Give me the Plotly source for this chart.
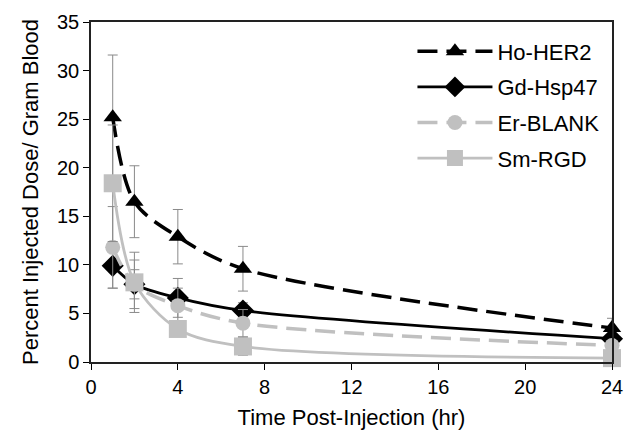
import plotly.graph_objects as go

times = [1, 2, 4, 7, 24]

ho_her2 = [25.2, 16.5, 12.9, 9.6, 3.5]
ho_her2_err = [6.4, 3.7, 2.8, 2.3, 1.0]

gd_hsp47 = [9.9, 8.0, 6.6, 5.3, 2.4]
gd_hsp47_err = [2.3, 1.5, 2.0, 0.8, 0.5]

er_blank = [11.8, 8.0, 5.8, 4.0, 1.7]
er_blank_err = [4.2, 2.5, 1.8, 1.4, 0.5]

sm_rgd = [18.4, 8.2, 3.4, 1.6, 0.4]
sm_rgd_err = [6.0, 3.1, 0.6, 0.9, 0.3]

x_ticks = [0, 4, 8, 12, 16, 20, 24]
y_ticks = [0, 5, 10, 15, 20, 25, 30, 35]

series = [
    ("Ho-HER2", ho_her2, ho_her2_err, "black", "20px,9px", 3.5, "triangle-up", 16),
    ("Gd-Hsp47", gd_hsp47, gd_hsp47_err, "black", "solid", 2.8, "diamond", 17),
    ("Er-BLANK", er_blank, er_blank_err, "#c0c0c0", "20px,9px", 3.5, "circle", 15),
    ("Sm-RGD", sm_rgd, sm_rgd_err, "#c0c0c0", "solid", 2.8, "square", 18),
]

fig = go.Figure()
for name, y, err, color, dash, width, symbol, msize in series:
    fig.add_trace(go.Scatter(
        x=times, y=y, name=name, mode="lines+markers",
        line=dict(color=color, width=width, dash=dash, shape="spline", smoothing=0.9),
        marker=dict(symbol=symbol, size=msize, color=color),
        error_y=dict(type="data", array=err, visible=True, color="#8a8a8a",
                     thickness=1, width=5),
        cliponaxis=False, legendgroup=name,
    ))

font_family = "Liberation Sans, Arial, sans-serif"
fig.update_layout(
    width=627, height=430,
    margin=dict(l=91, r=15, t=22, b=68),
    paper_bgcolor="white", plot_bgcolor="white",
    font=dict(family=font_family, size=20, color="black"),
    showlegend=True,
    legend=dict(x=0.617, y=0.975, xanchor="left", yanchor="top",
                bgcolor="rgba(255,255,255,0)", font=dict(size=22),
                itemwidth=75, tracegroupgap=4, traceorder="grouped"),
    xaxis=dict(range=[0, 24], tickvals=x_ticks, ticks="outside", ticklen=6,
               tickcolor="black", showline=True, linecolor="#222", linewidth=1.5,
               mirror=True, showgrid=False, zeroline=False, automargin=False,
               tickfont=dict(size=20),
               title=dict(text="Time Post-Injection (hr)", standoff=14, font=dict(size=22))),
    yaxis=dict(range=[0, 35], tickvals=y_ticks, ticks="outside", ticklen=6,
               tickcolor="black", showline=True, linecolor="#222", linewidth=1.5,
               mirror=True, showgrid=False, zeroline=False, automargin=False,
               tickfont=dict(size=20),
               title=dict(text="Percent Injected Dose/ Gram Blood", standoff=12, font=dict(size=22))),
)

fig.write_html("out.html", config={"displayModeBar": False},
               post_script="document.body.style.margin='0';")
